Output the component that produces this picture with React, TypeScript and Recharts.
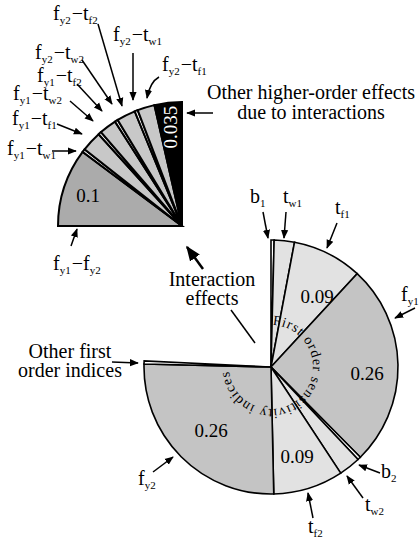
import React from 'react';
import { PieChart, Pie, Cell } from 'recharts';

// first order sensitivity indices (main pie, clockwise from top)
const firstNames = ['b1', 'tw1', 'tf1', 'fy1', 'b2', 'tw2', 'tf2', 'fy2', 'other'];
const firstValues = [0.004, 0.026, 0.09, 0.26, 0.004, 0.028, 0.09, 0.26, 0.004];
const firstFills = ['#ffffff', '#e2e2e2', '#e2e2e2', '#c4c4c4', '#ffffff', '#e2e2e2', '#e2e2e2', '#c4c4c4', '#ffffff'];

// interaction effects (exploded quarter, from left to top)
const interNames = ['fy1-fy2', 'fy1-tw1', 'fy1-tf1', 'fy1-tw2', 'fy1-tf2', 'fy2-tw2', 'fy2-tf2', 'fy2-tw1', 'fy2-tf1', 'higher'];
const interValues = [0.1, 0.004, 0.026, 0.004, 0.022, 0.004, 0.024, 0.004, 0.022, 0.035];
const interFills = ['#ababab', '#ffffff', '#c8c8c8', '#ffffff', '#c8c8c8', '#ffffff', '#c8c8c8', '#ffffff', '#c8c8c8', '#000000'];

const interTotal = interValues.reduce((a, b) => a + b, 0);

const mainData = [
  ...firstNames.map((name, i) => ({ name, value: firstValues[i], fill: firstFills[i] })),
  { name: 'interaction', value: interTotal, fill: 'none' },
];
const insetData = interNames.map((name, i) => ({ name, value: interValues[i], fill: interFills[i] }));

const FONT = 'Liberation Serif';

// text with subscripts: parts like [['f', 'y1'], ['t', 'f2']]
function SubLabel({ x, y, parts }: { x: number; y: number; parts: string[][] }) {
  const out: React.ReactNode[] = [];
  parts.forEach((p, i) => {
    if (i > 0) out.push(<tspan key={`d${i}`} dy={-4} dx={1}>−</tspan>);
    out.push(<tspan key={`m${i}`}>{p[0]}</tspan>);
    out.push(<tspan key={`s${i}`} fontSize={11} dy={4}>{p[1]}</tspan>);
  });
  return (
    <text x={x} y={y} style={{ fontFamily: FONT }} fontSize={20} fill="#000">
      {out}
    </text>
  );
}

function Arrow({ x1, y1, x2, y2, w = 1.5 }: { x1: number; y1: number; x2: number; y2: number; w?: number }) {
  return <line x1={x1} y1={y1} x2={x2} y2={y2} stroke="#000" strokeWidth={w} markerEnd="url(#ah)" />;
}

function Value({ x, y, children }: { x: number; y: number; children: React.ReactNode }) {
  return (
    <text x={x} y={y} style={{ fontFamily: FONT }} fontSize={19} textAnchor="middle" fill="#000">
      {children}
    </text>
  );
}

function Annotations() {
  const cx = 271;
  const cy = 367;
  const r = 42;
  const a0 = (88 * Math.PI) / 180;
  const a1 = (140 * Math.PI) / 180;
  const path = `M ${cx + r * Math.cos(a0)} ${cy - r * Math.sin(a0)} A ${r} ${r} 0 1 1 ${cx + r * Math.cos(a1)} ${cy - r * Math.sin(a1)}`;
  return (
    <svg width={420} height={541} style={{ position: 'absolute', left: 0, top: 0, pointerEvents: 'none' }}>
      <defs>
        <marker id="ah" viewBox="0 0 10 10" refX="9" refY="5" markerWidth="6" markerHeight="6" orient="auto-start-reverse">
          <path d="M0,1 L10,5 L0,9 z" fill="#000" />
        </marker>
        <path id="arcText" d={path} fill="none" />
      </defs>

      {/* curved caption */}
      <text style={{ fontFamily: FONT }} fontSize={14} fill="#000" letterSpacing={0.95}>
        <textPath href="#arcText">First order sensitivity indices</textPath>
      </text>

      {/* values */}
      <Value x={317} y={303}>0.09</Value>
      <Value x={367} y={380}>0.26</Value>
      <Value x={211} y={437}>0.26</Value>
      <Value x={297} y={463}>0.09</Value>
      <Value x={88} y={202}>0.1</Value>
      <text x={0} y={0} style={{ fontFamily: FONT }} fontSize={19} textAnchor="middle" fill="#fff"
        transform="translate(177 127) rotate(-90)">0.035</text>

      {/* main pie labels */}
      <SubLabel x={250} y={203} parts={[['b', '1']]} />
      <Arrow x1={263} y1={212} x2={268} y2={238} />
      <SubLabel x={283} y={203} parts={[['t', 'w1']]} />
      <Arrow x1={286} y1={212} x2={284} y2={238} />
      <SubLabel x={335} y={214} parts={[['t', 'f1']]} />
      <Arrow x1={337} y1={223} x2={327} y2={248} />
      <SubLabel x={401} y={301} parts={[['f', 'y1']]} />
      <Arrow x1={415} y1={308} x2={395} y2={318} />
      <SubLabel x={381} y={478} parts={[['b', '2']]} />
      <Arrow x1={380} y1={473} x2={359} y2={465} />
      <SubLabel x={365} y={511} parts={[['t', 'w2']]} />
      <Arrow x1={363} y1={498} x2={347} y2={476} />
      <SubLabel x={308} y={533} parts={[['t', 'f2']]} />
      <Arrow x1={313} y1={518} x2={308} y2={493} />
      <SubLabel x={138} y={485} parts={[['f', 'y2']]} />
      <Arrow x1={153} y1={472} x2={173} y2={457} />

      <text style={{ fontFamily: FONT }} fontSize={20} textAnchor="middle" fill="#000">
        <tspan x={70} y={358}>Other first</tspan>
        <tspan x={70} y={377}>order indices</tspan>
      </text>
      <Arrow x1={112} y1={362} x2={138} y2={363} />

      <text style={{ fontFamily: FONT }} fontSize={20} textAnchor="middle" fill="#000">
        <tspan x={212} y={286}>Interaction</tspan>
        <tspan x={212} y={305}>effects</tspan>
      </text>
      <Arrow x1={203} y1={269} x2={187} y2={247} w={2.5} />
      <line x1={231} y1={310} x2={255} y2={343} stroke="#000" strokeWidth={1.5} />

      {/* inset labels */}
      <SubLabel x={53} y={270} parts={[['f', 'y1'], ['f', 'y2']]} />
      <Arrow x1={71} y1={246} x2={77} y2={229} />
      <SubLabel x={53} y={20} parts={[['f', 'y2'], ['t', 'f2']]} />
      <Arrow x1={98} y1={24} x2={122} y2={106} />
      <SubLabel x={113} y={41} parts={[['f', 'y2'], ['t', 'w1']]} />
      <Arrow x1={133} y1={53} x2={133} y2={100} />
      <SubLabel x={162} y={71} parts={[['f', 'y2'], ['t', 'f1']]} />
      <path d="M159 77 Q150 82 147 98" fill="none" stroke="#000" strokeWidth={1.5} markerEnd="url(#ah)" />
      <SubLabel x={35} y={59} parts={[['f', 'y2'], ['t', 'w2']]} />
      <Arrow x1={82} y1={60} x2={112} y2={104} />
      <SubLabel x={37} y={82} parts={[['f', 'y1'], ['t', 'f2']]} />
      <Arrow x1={77} y1={84} x2={102} y2={111} />
      <SubLabel x={13} y={100} parts={[['f', 'y1'], ['t', 'w2']]} />
      <Arrow x1={70} y1={101} x2={93} y2={121} />
      <SubLabel x={12} y={125} parts={[['f', 'y1'], ['t', 'f1']]} />
      <Arrow x1={57} y1={124} x2={82} y2={134} />
      <SubLabel x={7} y={155} parts={[['f', 'y1'], ['t', 'w1']]} />
      <Arrow x1={52} y1={151} x2={76} y2={151} />

      <text style={{ fontFamily: FONT }} fontSize={20} textAnchor="middle" fill="#000">
        <tspan x={311} y={99}>Other higher-order effects</tspan>
        <tspan x={311} y={119}>due to interactions</tspan>
      </text>
      <Arrow x1={213} y1={113} x2={187} y2={113} />
    </svg>
  );
}

export default function App() {
  return (
    <div style={{ position: 'absolute', left: 0, top: 0, width: 420, height: 541, background: '#fff' }}>
      <PieChart width={420} height={541} margin={{ top: 0, right: 0, bottom: 0, left: 0 }}>
        <Pie
          data={mainData}
          dataKey="value"
          cx={271}
          cy={367}
          outerRadius={127}
          startAngle={90}
          endAngle={-270}
          isAnimationActive={false}
        >
          {mainData.map((d, i) => (
            <Cell
              key={`m-${i}`}
              fill={d.fill}
              stroke={d.fill === 'none' ? 'none' : '#000'}
              strokeWidth={1.6}
            />
          ))}
        </Pie>
        <Pie
          data={insetData}
          dataKey="value"
          cx={182}
          cy={226}
          outerRadius={124}
          startAngle={180}
          endAngle={90}
          isAnimationActive={false}
        >
          {insetData.map((d, i) => (
            <Cell key={`i-${i}`} fill={d.fill} stroke="#000" strokeWidth={2} />
          ))}
        </Pie>
      </PieChart>
      <Annotations />
    </div>
  );
}
